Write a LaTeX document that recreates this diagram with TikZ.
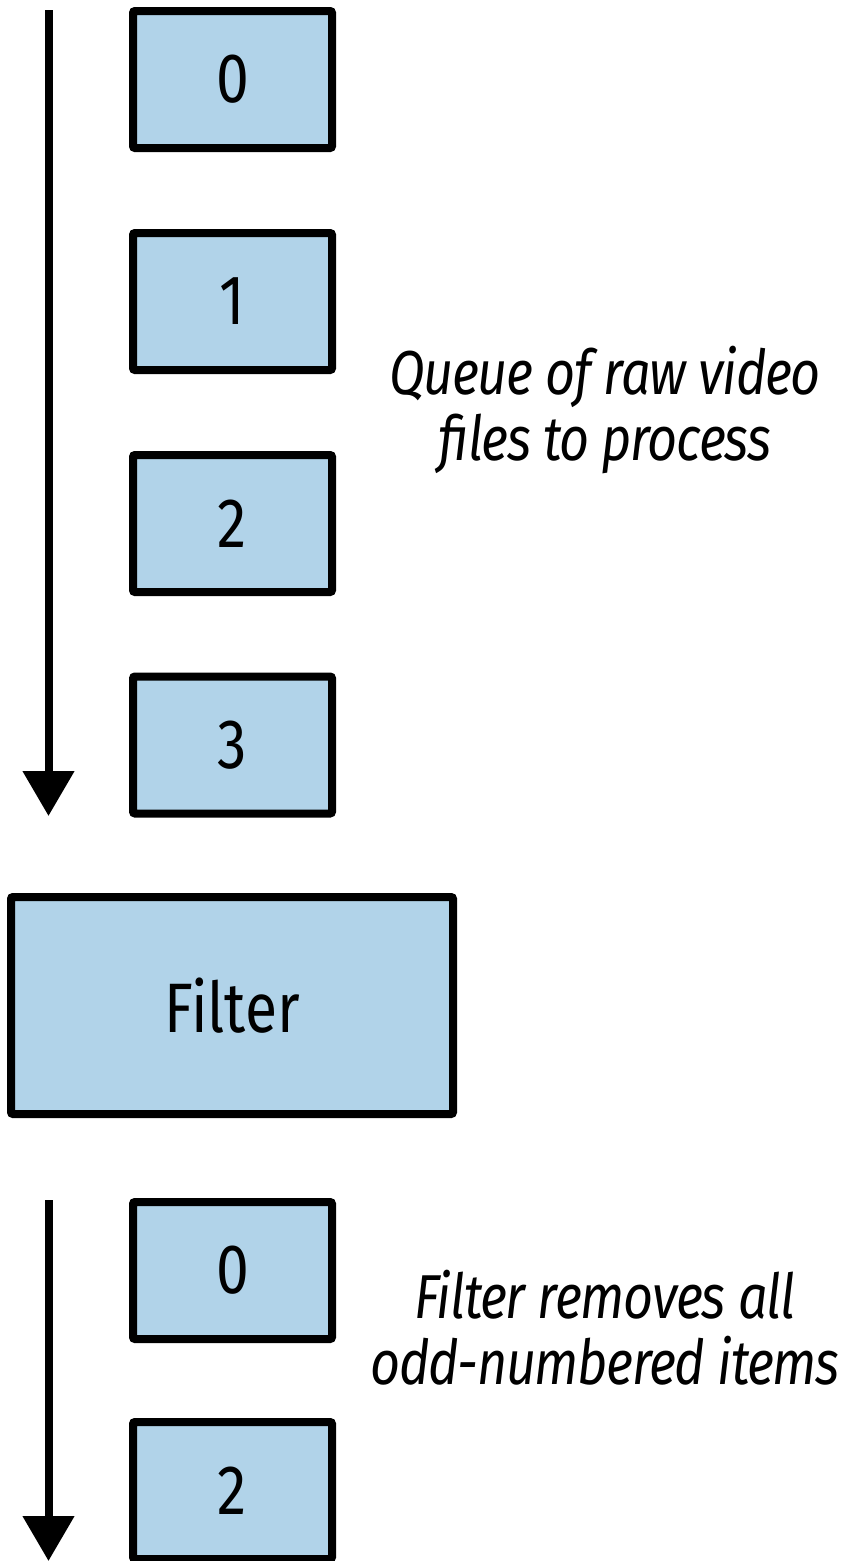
\documentclass[tikz,border=0pt]{standalone}
\usepackage{fontspec}
\setmainfont{Fira Sans}[FakeStretch=0.84]
\newfontfamily\notefont{Fira Sans Italic}[FakeStretch=0.84, LetterSpace=-2]
\usetikzlibrary{arrows.meta}
\definecolor{boxblue}{HTML}{B1D3E9}
\tikzset{
  item/.style={draw=black, line width=8pt, fill=boxblue, rounded corners=2pt,
    minimum width=199pt, minimum height=137pt, inner sep=0pt,
    font=\fontsize{70}{70}\selectfont},
  filterbox/.style={item, minimum width=442pt, minimum height=217pt},
  flow/.style={line width=8pt, -{Triangle[width=50pt,length=45pt]}},
  note/.style={align=center, font=\notefont\fontsize{62}{66}\selectfont}
}
\begin{document}
\begin{tikzpicture}[x=1pt,y=-1pt]
\useasboundingbox (0,0) rectangle (849,1561);
\node[item] (a0) at (232.5,79.5) {0};
\node[item] (a1) at (232.5,301.5) {1};
\node[item] (a2) at (232.5,523.5) {2};
\node[item] (a3) at (232.5,745) {3};
\node[filterbox] (f) at (232,1005.5) {Filter};
\node[item] (b0) at (232.5,1270.5) {0};
\node[item] (b2) at (232.5,1490.5) {2};
\coordinate (s1) at (48.5,10);
\coordinate (e1) at (48.5,816);
\coordinate (s2) at (48.5,1200);
\coordinate (e2) at (48.5,1561);
\draw[flow] (s1) -- (e1);
\draw[flow] (s2) -- (e2);
\node[note] (t1) at (605,410) {Queue of raw video\\files to process};
\node[note] (t2) at (605,1328) {Filter removes all\\odd-numbered items};
\end{tikzpicture}
\end{document}
